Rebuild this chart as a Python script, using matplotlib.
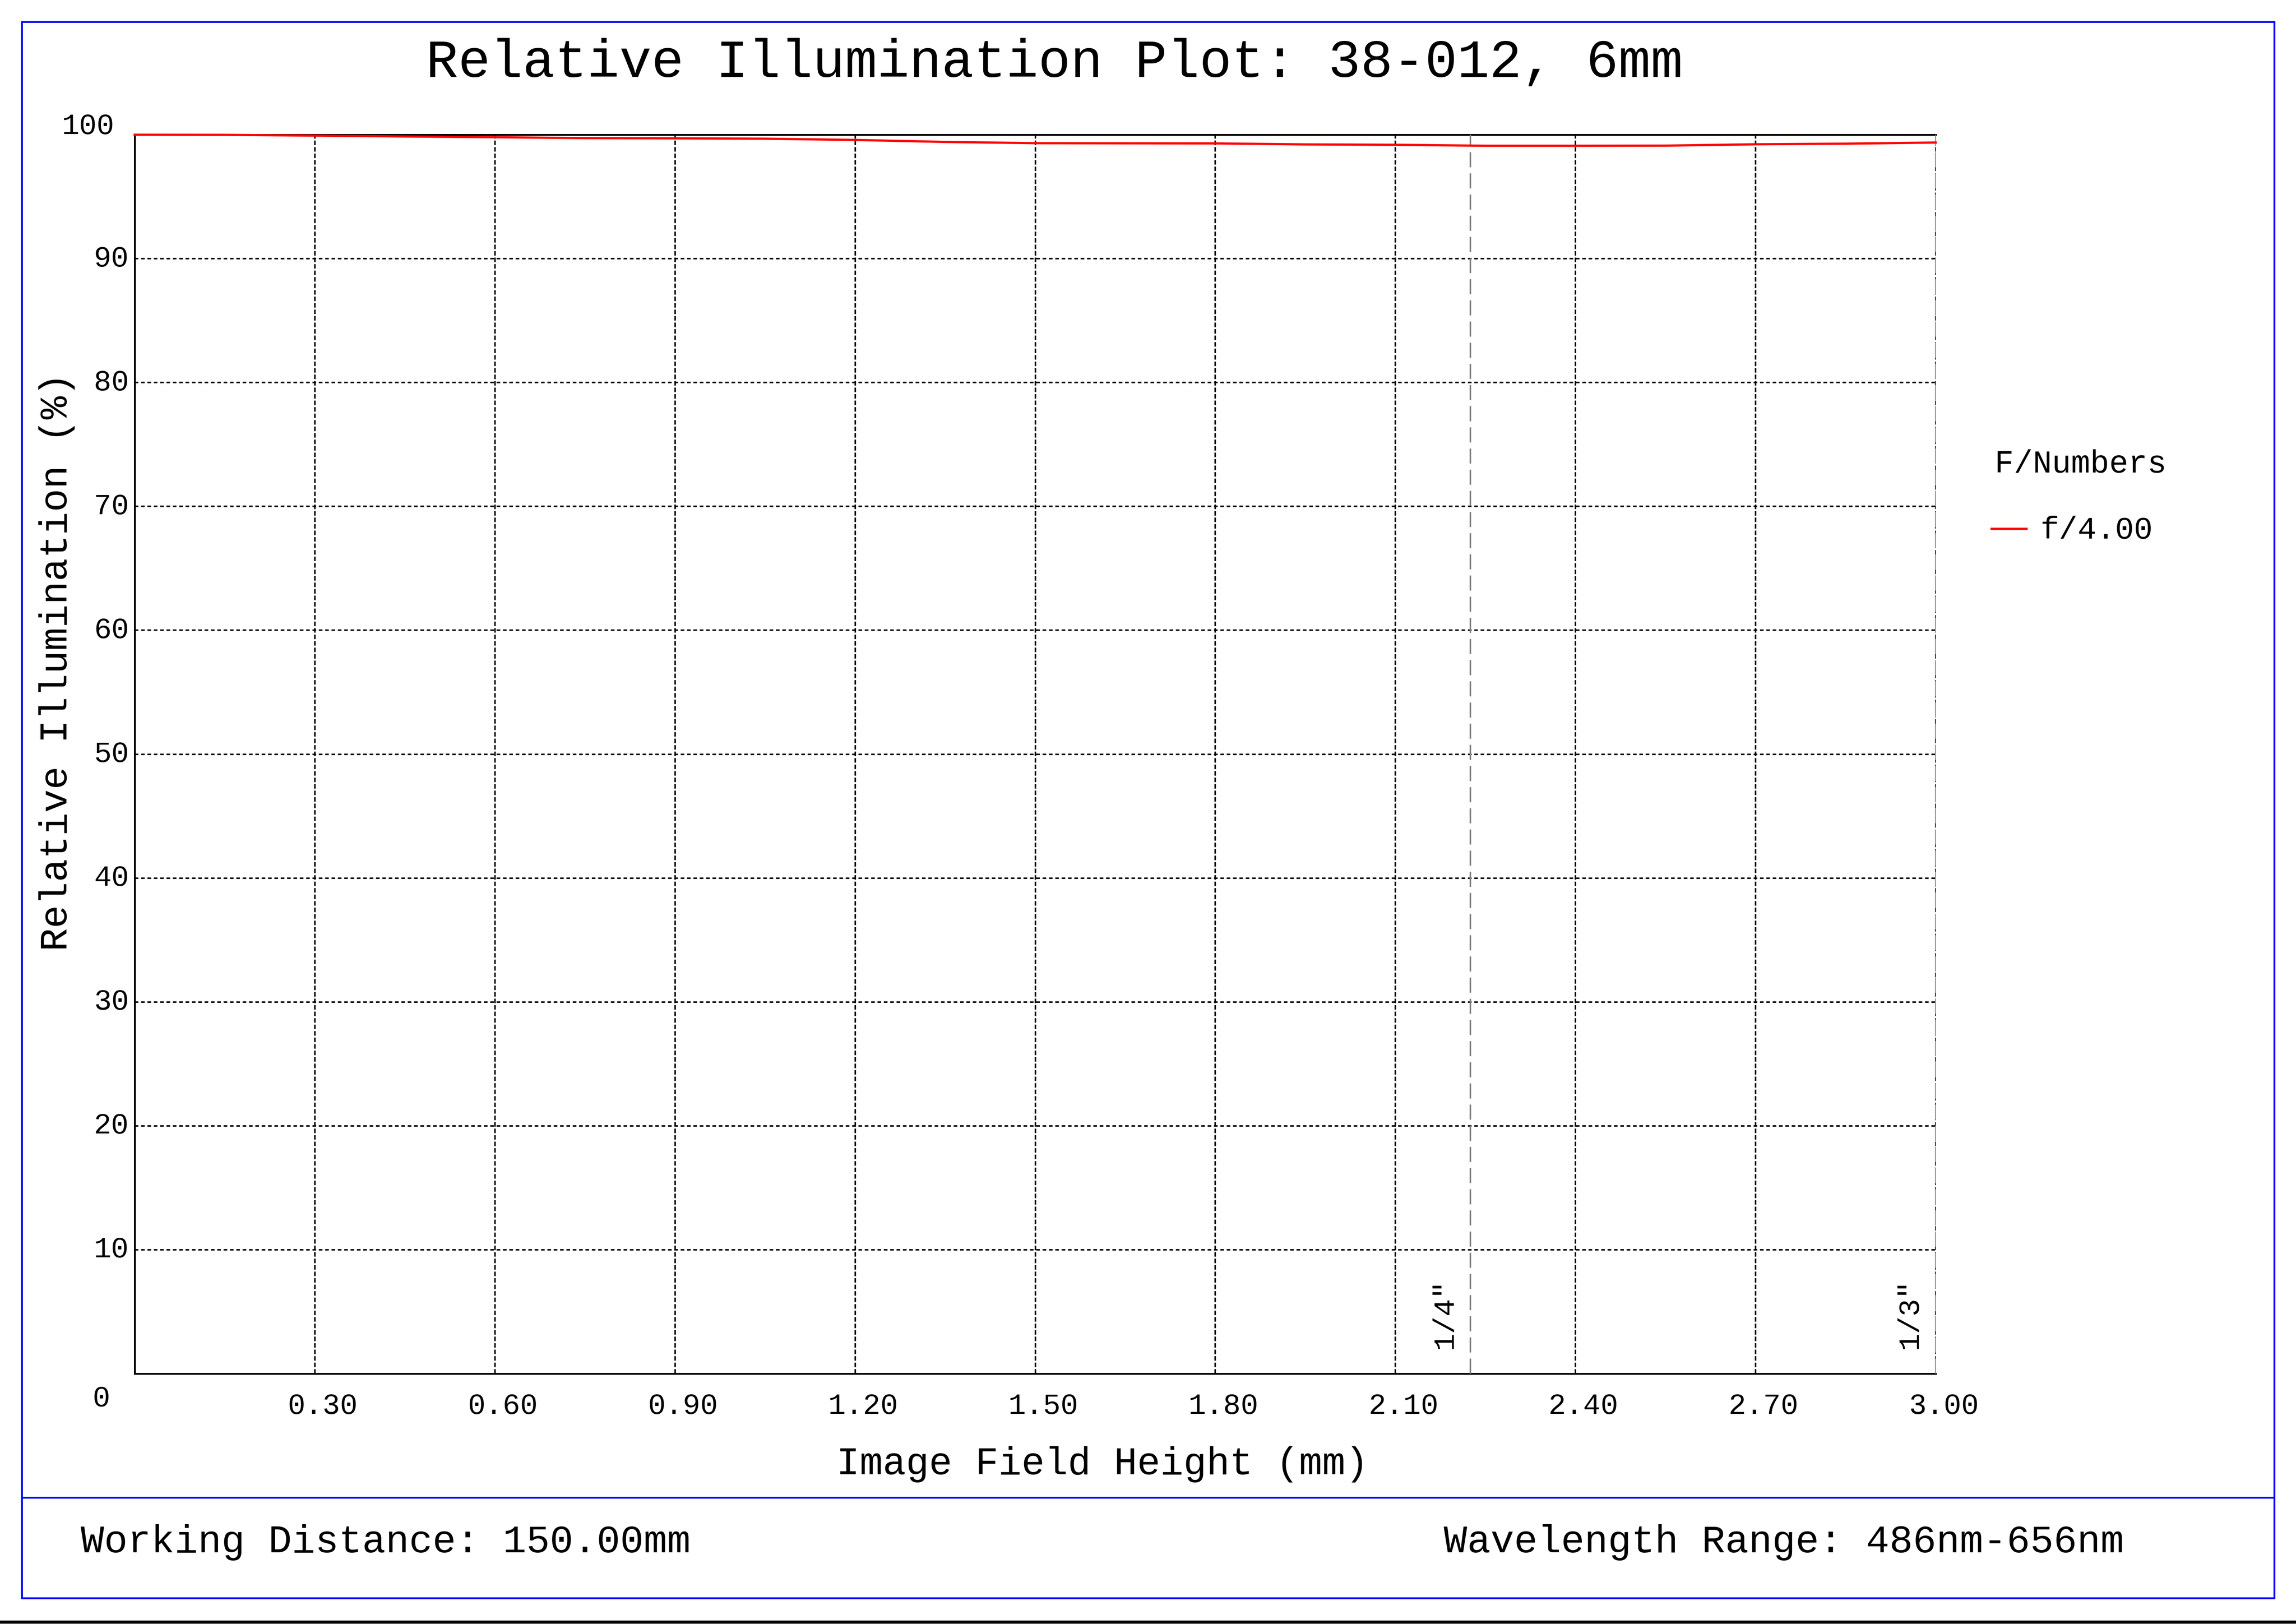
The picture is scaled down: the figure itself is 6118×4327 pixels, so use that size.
import matplotlib
matplotlib.use("Agg")
import matplotlib.pyplot as plt
from matplotlib.lines import Line2D
from matplotlib.transforms import blended_transform_factory, offset_copy

plt.rcParams['font.family'] = ['Liberation Mono', 'DejaVu Sans']

# data
field_height = [0.00, 0.15, 0.30, 0.45, 0.60, 0.75, 0.90, 1.05, 1.20, 1.35, 1.50,
                1.65, 1.80, 1.95, 2.10, 2.25, 2.40, 2.55, 2.70, 2.85, 3.00]
rel_illum = [100.00, 99.99, 99.93, 99.86, 99.80, 99.73, 99.71, 99.68, 99.58, 99.42, 99.32,
             99.31, 99.30, 99.22, 99.19, 99.11, 99.11, 99.12, 99.23, 99.28, 99.37]

x_ticks = [0.30, 0.60, 0.90, 1.20, 1.50, 1.80, 2.10, 2.40, 2.70, 3.00]
x_tick_labels = ['0.30', '0.60', '0.90', '1.20', '1.50', '1.80', '2.10', '2.40', '2.70', '3.00']
y_ticks = [10, 20, 30, 40, 50, 60, 70, 80, 90]
y_tick_labels = ['10', '20', '30', '40', '50', '60', '70', '80', '90']

sensor_pos = [2.225, 3.00]
sensor_labels = ['1/4"', '1/3"']

W, H = 6118, 4327
DPI = 100


def fx(px):
    return px / W


def fy(py):
    return 1 - py / H


fig = plt.figure(figsize=(W / DPI, H / DPI), dpi=DPI)
fig.patch.set_facecolor('white')

# frame
blue = '#0000ff'
for xs, ys in [([58, 6060], [58, 58]), ([58, 6060], [4258, 4258]),
               ([58, 58], [58, 4258]), ([6060, 6060], [58, 4258]),
               ([58, 6060], [3990, 3990])]:
    fig.add_artist(Line2D([fx(x) for x in xs], [fy(y) for y in ys],
                          color=blue, linewidth=3.6, transform=fig.transFigure))
fig.add_artist(Line2D([0, 1], [fy(4322), fy(4322)], color='black',
                      linewidth=6, transform=fig.transFigure))

left, right, top, bottom = 359, 5158, 359, 3660
ax = fig.add_axes([fx(left), fy(bottom), (right - left) / W, (bottom - top) / H])
ax.set_xlim(0, 3.0)
ax.set_ylim(0, 100)

for s in ['left', 'bottom', 'top']:
    ax.spines[s].set_linewidth(3.6)
    ax.spines[s].set_color('black')
ax.spines['right'].set_visible(False)

ax.set_xticks(x_ticks)
ax.set_yticks(y_ticks)
ax.set_xticklabels([])
ax.set_yticklabels([])
ax.tick_params(length=0)
ax.xaxis.grid(True, color='black', linewidth=2.9, linestyle=(0, (3.0, 1.3)))
ax.yaxis.grid(True, color='black', linewidth=2.9, linestyle=(0, (2.4, 1.8)))

# sensor format lines
for pos, lab in zip(sensor_pos, sensor_labels):
    ax.axvline(pos, color='#808080', linewidth=2.9, linestyle=(0, (10, 4)), zorder=3)
    tr = offset_copy(ax.transData, fig=fig, x=-70, y=0, units='dots')
    ax.text(pos, 2.0, lab, transform=tr, rotation=90, ha='center', va='bottom',
            fontsize=56, color='black')

ax.plot(field_height, rel_illum, color='#ff0000', linewidth=4.3, clip_on=False,
        zorder=5, solid_joinstyle='round')

# tick labels
bx = blended_transform_factory(ax.transData, fig.transFigure)
bx = offset_copy(bx, fig=fig, x=21, y=0, units='dots')
for xv, lab in zip(x_ticks, x_tick_labels):
    ax.text(xv, fy(3746), lab, transform=bx, ha='center', va='center', fontsize=56)
by = blended_transform_factory(fig.transFigure, ax.transData)
for yv, lab in zip(y_ticks, y_tick_labels):
    ax.text(fx(343), yv, lab, transform=by, ha='right', va='center', fontsize=56)
fig.text(fx(304), fy(336), '100', ha='right', va='center', fontsize=56)
fig.text(fx(293), fy(3726), '0', ha='right', va='center', fontsize=56)

# titles and labels
fig.text(fx(2810), fy(168), 'Relative Illumination Plot: 38-012, 6mm',
         ha='center', va='center', fontsize=103)
fig.text(fx(2938), fy(3902), 'Image Field Height (mm)',
         ha='center', va='center', fontsize=74)
fig.text(fx(152), fy(1764), 'Relative Illumination (%)', rotation=90,
         ha='center', va='center', fontsize=74)

# legend
fig.text(fx(5315), fy(1237), 'F/Numbers', ha='left', va='center', fontsize=61)
fig.add_artist(Line2D([fx(5307), fx(5400)], [fy(1409), fy(1409)], color='#ff0000',
                      linewidth=4.3, transform=fig.transFigure))
fig.text(fx(5436), fy(1413), 'f/4.00', ha='left', va='center', fontsize=60)

# footer
fig.text(fx(215), fy(4109), 'Working Distance: 150.00mm', ha='left', va='center', fontsize=75)
fig.text(fx(3847), fy(4109), 'Wavelength Range: 486nm-656nm', ha='left', va='center', fontsize=75)

fig.savefig('out.png', dpi=DPI, facecolor='white')
